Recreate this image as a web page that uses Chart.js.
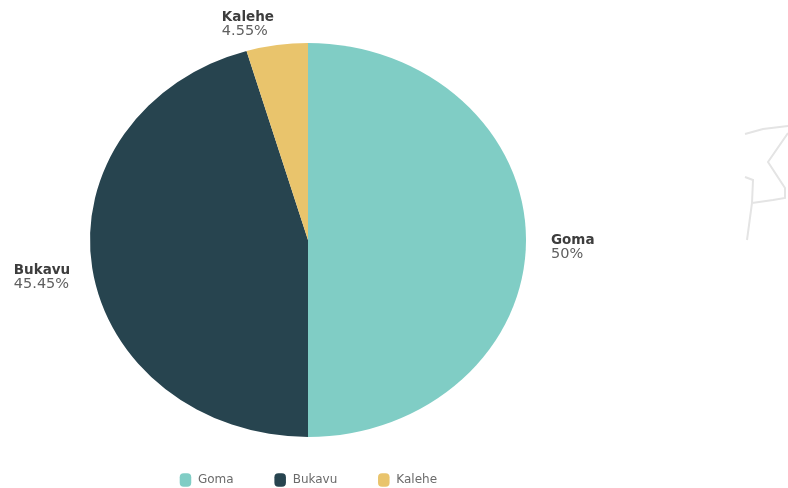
<!DOCTYPE html>
<html>
<head>
<meta charset="utf-8">
<title>Goma, Bukavu, Kalehe</title>
<script src="https://cdn.jsdelivr.net/npm/chart.js@4"></script>
<style>
  html, body { margin: 0; background: #fff; }
  canvas { display: block; }
</style>
</head>
<body>
<canvas id="myChart" width="788" height="488"></canvas>
<script>
const villes = ['Goma', 'Bukavu', 'Kalehe'];
const parts = [50, 45.45, 4.55];
const couleurs = ['#80cdc5', '#27444f', '#e9c46c'];

// the pie is wider than it is tall
const stretchX = 218 / 197;

// where each label block sits relative to the edge of its slice: [dx, dy, side]
const labelOffsets = [[25, 7, 'left'], [-22, 9, 'right'], [-3, -21, 'right']];

const nameFont = 'bold 13.5px "DejaVu Sans"';
const pctFont = '14.5px "DejaVu Sans"';

const ellipse = {
  id: 'ellipse',
  beforeDatasetsDraw(chart) {
    const c = chart.ctx;
    const arc = chart.getDatasetMeta(0).data[0];
    c.save();
    c.translate(arc.x, arc.y);
    c.scale(stretchX, 1);
    c.translate(-arc.x, -arc.y);
  },
  afterDatasetsDraw(chart) {
    chart.ctx.restore();
  }
};

const sliceLabels = {
  id: 'sliceLabels',
  afterDraw(chart) {
    const c = chart.ctx;
    chart.getDatasetMeta(0).data.forEach((arc, i) => {
      const mid = (arc.startAngle + arc.endAngle) / 2;
      const edgeX = arc.x + Math.cos(mid) * arc.outerRadius * stretchX;
      const edgeY = arc.y + Math.sin(mid) * arc.outerRadius;
      const [dx, dy, side] = labelOffsets[i];
      const name = villes[i];
      const pct = parts[i] + '%';

      c.save();
      c.textBaseline = 'middle';
      c.textAlign = 'left';
      c.font = nameFont;
      const w1 = c.measureText(name).width;
      c.font = pctFont;
      const w2 = c.measureText(pct).width;
      const left = side === 'left' ? edgeX + dx : edgeX + dx - Math.max(w1, w2);
      const y = edgeY + dy;
      c.font = nameFont;
      c.fillStyle = '#3d3d3d';
      c.fillText(name, left, y - 7);
      c.font = pctFont;
      c.fillStyle = '#5f5f5f';
      c.fillText(pct, left, y + 7);
      c.restore();
    });
  }
};

// faint outline in the top right corner
const ghost = {
  id: 'ghost',
  beforeDraw(chart) {
    const c = chart.ctx;
    c.save();
    c.beginPath();
    c.moveTo(745, 134); c.lineTo(763, 129); c.lineTo(788, 126);
    c.moveTo(788, 133); c.lineTo(768, 162); c.lineTo(785, 188);
    c.lineTo(785, 198); c.lineTo(773, 200); c.lineTo(752, 203);
    c.moveTo(745, 177); c.lineTo(753, 180); c.lineTo(752, 203);
    c.lineTo(747, 240);
    c.strokeStyle = '#e4e4e4';
    c.lineWidth = 2;
    c.stroke();
    c.restore();
  }
};

new Chart(document.querySelector('#myChart'), {
  type: 'pie',
  data: {
    labels: villes,
    datasets: [{
      data: parts,
      backgroundColor: couleurs,
      borderWidth: 0,
      radius: 197
    }]
  },
  options: {
    responsive: false,
    animation: false,
    layout: { padding: { top: 46, right: 172, bottom: -8, left: 0 } },
    plugins: {
      tooltip: { enabled: false },
      legend: {
        position: 'bottom',
        labels: {
          usePointStyle: true,
          pointStyle: 'rectRounded',
          pointStyleWidth: 13,
          boxHeight: 11,
          padding: 40,
          color: '#6b6b6b',
          font: { family: '"DejaVu Sans"', size: 12 }
        }
      }
    }
  },
  plugins: [ghost, ellipse, sliceLabels]
});
</script>
</body>
</html>
